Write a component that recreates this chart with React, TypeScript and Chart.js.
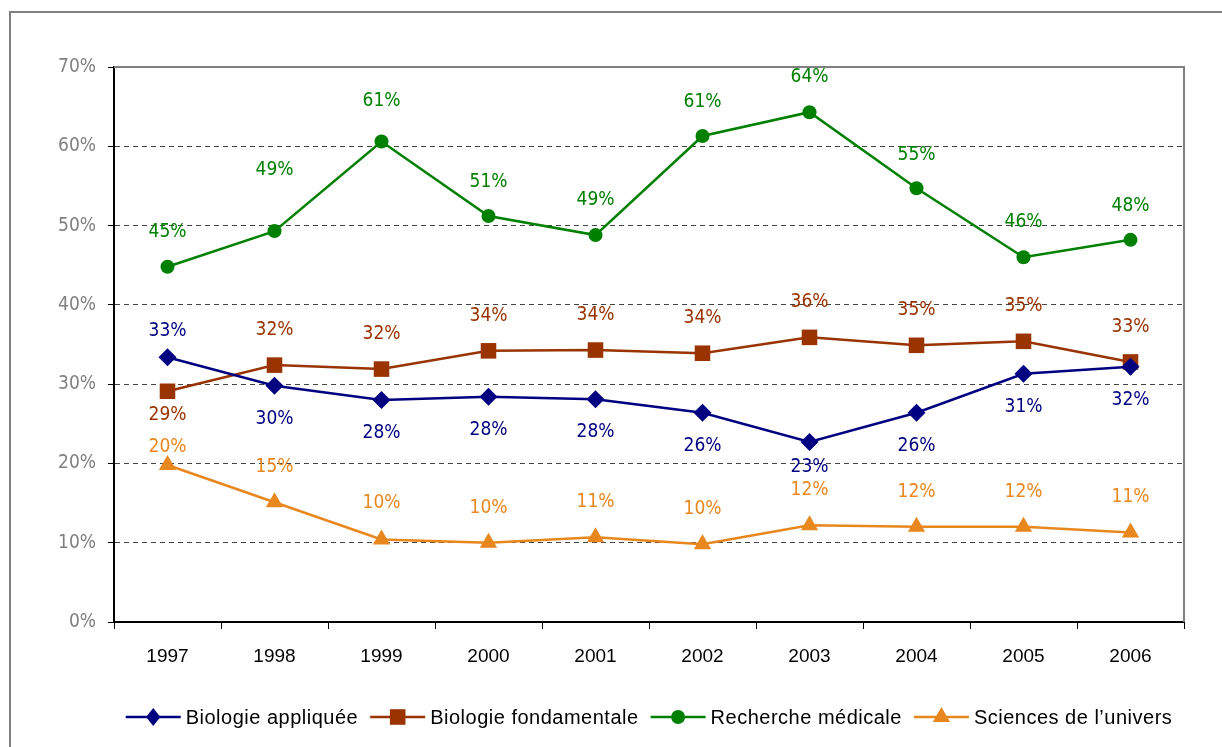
import React, { useEffect, useRef } from 'react';
import { Chart, registerables } from 'chart.js';

Chart.register(...registerables);

const years = ['1997', '1998', '1999', '2000', '2001', '2002', '2003', '2004', '2005', '2006'];
const yTicks = [0, 10, 20, 30, 40, 50, 60, 70];

const biologieAppliquee = [33.4, 29.8, 28.0, 28.4, 28.1, 26.4, 22.7, 26.4, 31.3, 32.2];
const biologieFondamentale = [29.1, 32.4, 31.9, 34.2, 34.3, 33.9, 35.9, 34.9, 35.4, 32.8];
const rechercheMedicale = [44.8, 49.3, 60.6, 51.2, 48.8, 61.3, 64.3, 54.7, 46.0, 48.2];
const sciencesUnivers = [19.8, 15.1, 10.4, 10.0, 10.7, 9.8, 12.2, 12.0, 12.0, 11.3];

const seriesNames = ['Biologie appliquée', 'Biologie fondamentale', 'Recherche médicale', "Sciences de l\u2019univers"];

// label vertical shift (px, negative = above) per point, styling only
const labelShiftAppliquee = [-26, 33, 33, 33, 33, 33, 25, 33, 33, 33];
const labelShiftFondamentale = [24, -35, -35, -35, -35, -35, -35, -35, -35, -35];
const labelShiftMedicale = [-35, -61, -40, -34, -35, -34, -35, -33, -35, -34];
const labelShiftUnivers = [-18, -35, -36, -35, -35, -35, -35, -35, -35, -35];

const NARROW = '"Liberation Sans Narrow", "DejaVu Sans Condensed", "Liberation Sans", sans-serif';
const SANS = '"Liberation Sans", Arial, sans-serif';
const COLORS = ['#000080', '#993300', '#008000', '#E8871E'];
const STYLES = ['rectRot', 'rect', 'circle', 'triangle'];
const RADII = [9, 11, 7, 10];

function drawMarker(ctx: CanvasRenderingContext2D, style: string, x: number, y: number, r: number, color: string) {
  ctx.save();
  ctx.fillStyle = color;
  ctx.beginPath();
  if (style === 'rectRot') {
    ctx.moveTo(x, y - r);
    ctx.lineTo(x + r * 0.8, y);
    ctx.lineTo(x, y + r);
    ctx.lineTo(x - r * 0.8, y);
  } else if (style === 'rect') {
    const s = r * Math.SQRT1_2;
    ctx.rect(x - s, y - s, 2 * s, 2 * s);
  } else if (style === 'circle') {
    ctx.arc(x, y, r, 0, Math.PI * 2);
  } else {
    ctx.moveTo(x, y - r);
    ctx.lineTo(x + r * 0.866, y + r * 0.5);
    ctx.lineTo(x - r * 0.866, y + r * 0.5);
  }
  ctx.closePath();
  ctx.fill();
  ctx.restore();
}

const decorPlugin = {
  id: 'decor',
  beforeDatasetsDraw(chart: any) {
    const { ctx, chartArea } = chart;
    ctx.save();
    ctx.strokeStyle = '#808080';
    ctx.lineWidth = 2;
    ctx.beginPath();
    ctx.moveTo(chartArea.left, chartArea.top);
    ctx.lineTo(chartArea.right, chartArea.top);
    ctx.lineTo(chartArea.right, chartArea.bottom);
    ctx.stroke();
    ctx.restore();
  },
  afterDatasetsDraw(chart: any) {
    const { ctx } = chart;
    const shifts = [labelShiftAppliquee, labelShiftFondamentale, labelShiftMedicale, labelShiftUnivers];
    ctx.save();
    ctx.font = `19px ${NARROW}`;
    ctx.textAlign = 'center';
    ctx.textBaseline = 'middle';
    chart.data.datasets.forEach((ds: any, di: number) => {
      const meta = chart.getDatasetMeta(di);
      ctx.fillStyle = COLORS[di];
      meta.data.forEach((pt: any, i: number) => {
        const v = ds.data[i];
        ctx.fillText(`${Math.round(v)}%`, pt.x, pt.y + shifts[di][i]);
      });
    });
    ctx.restore();
  },
  afterDraw(chart: any) {
    const { ctx, chartArea } = chart;
    ctx.save();
    ctx.font = `20px ${SANS}`;
    try { (ctx as any).letterSpacing = '0.5px'; } catch (e) { /* ignore */ }
    ctx.textBaseline = 'middle';
    const lineLen = 55;
    const gapText = 5;
    const gapItem = 12;
    const widths = seriesNames.map((n) => ctx.measureText(n).width);
    const total = widths.reduce((a, w) => a + lineLen + gapText + w, 0) + gapItem * (seriesNames.length - 1);
    let x = (chartArea.left + chartArea.right) / 2 - total / 2;
    const y = 717;
    seriesNames.forEach((name, i) => {
      ctx.strokeStyle = COLORS[i];
      ctx.lineWidth = 2.5;
      ctx.beginPath();
      ctx.moveTo(x, y);
      ctx.lineTo(x + lineLen, y);
      ctx.stroke();
      drawMarker(ctx, STYLES[i], x + lineLen / 2, y, RADII[i], COLORS[i]);
      x += lineLen + gapText;
      ctx.fillStyle = '#000';
      ctx.fillText(name, x, y + 1);
      x += widths[i] + gapItem;
    });
    ctx.restore();
  },
};

function ChartView() {
  const ref = useRef<HTMLCanvasElement | null>(null);
  useEffect(() => {
    if (!ref.current) return;
    const all = [biologieAppliquee, biologieFondamentale, rechercheMedicale, sciencesUnivers];
    const chart = new Chart(ref.current, {
      type: 'line',
      data: {
        labels: years,
        datasets: all.map((d, i) => ({
          label: seriesNames[i],
          data: d,
          borderColor: COLORS[i],
          backgroundColor: COLORS[i],
          borderWidth: 2.5,
          pointStyle: STYLES[i] as any,
          pointRadius: RADII[i],
          pointHoverRadius: RADII[i],
          pointBorderWidth: 0,
          tension: 0,
          fill: false,
        })),
      },
      options: {
        animation: false,
        responsive: false,
        maintainAspectRatio: false,
        events: [],
        layout: { padding: { left: 0, right: 38, top: 67, bottom: 0 } },
        plugins: { legend: { display: false }, tooltip: { enabled: false }, title: { display: false } },
        scales: {
          x: {
            type: 'category',
            offset: true,
            grid: {
              display: true,
              offset: true,
              drawOnChartArea: false,
              drawTicks: true,
              tickLength: 7,
              tickColor: '#000',
              tickWidth: 1,
            },
            border: { display: true, color: '#000', width: 2 },
            ticks: {
              color: '#000',
              font: { family: SANS, size: 19 },
              padding: 16,
              maxRotation: 0,
              autoSkip: false,
            },
            afterFit: (s: any) => { s.height = 125; },
          },
          y: {
            min: 0,
            max: 70,
            afterBuildTicks: (s: any) => { s.ticks = yTicks.map((v) => ({ value: v })); },
            grid: {
              color: (c: any) => (c.tick && (c.tick.value === 0 || c.tick.value === 70) ? 'rgba(0,0,0,0)' : '#444'),
              lineWidth: 1,
              drawTicks: true,
              tickLength: 6,
              tickColor: '#000',
              tickWidth: 1,
              tickBorderDash: [],
            },
            border: { display: true, color: '#000', width: 2, dash: [5, 4] },
            ticks: {
              color: '#808080',
              font: { family: NARROW, size: 19 },
              padding: 12,
              callback: (v: any) => `${v}%`,
            },
            afterFit: (s: any) => { s.width = 114; },
          },
        },
      },
      plugins: [decorPlugin],
    });
    return () => chart.destroy();
  }, []);
  return <canvas ref={ref} width={1222} height={747} style={{ position: 'absolute', left: 0, top: 0, width: 1222, height: 747 }} />;
}

export default function App() {
  return (
    <div style={{ position: 'fixed', left: 0, top: 0, width: 1222, height: 747, overflow: 'hidden', background: '#fff' }}>
      <div style={{ position: 'absolute', left: 9, top: 11, width: 1400, height: 900, border: '2px solid #808080' }} />
      <ChartView />
    </div>
  );
}
